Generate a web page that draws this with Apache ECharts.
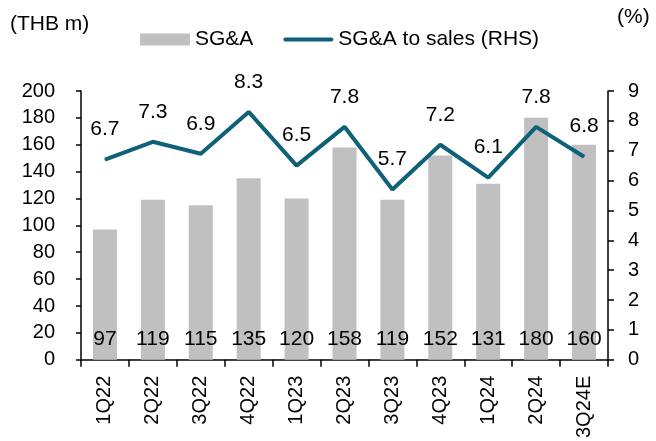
<!DOCTYPE html>
<html><head><meta charset="utf-8">
<script src="https://cdn.jsdelivr.net/npm/echarts@6/dist/echarts.min.js"></script>
<style>html,body{margin:0;padding:0;background:#fff}#c{width:656px;height:441px}</style>
</head><body><div id="c"></div>
<script>
const categories = ['1Q22','2Q22','3Q22','4Q22','1Q23','2Q23','3Q23','4Q23','1Q24','2Q24','3Q24E'];
const sgaValues = [97,119,115,135,120,158,119,152,131,180,160];
const sgaToSales = [6.7,7.3,6.9,8.3,6.5,7.8,5.7,7.2,6.1,7.8,6.8];
const leftTicks = {min:0, max:200, interval:20};
const rightTicks = {min:0, max:9, interval:1};

const FONT = '"Liberation Sans", Arial, sans-serif';
const LINE_COLOR = '#0f6079';
const chart = echarts.init(document.getElementById('c'), null, {renderer:'canvas'});
const axisLabelStyle = {color:'#000', fontFamily:FONT, fontSize:20};
chart.setOption({
  animation:false,
  textStyle:{fontFamily:FONT},
  grid:{left:81, right:48, top:91, bottom:80, containLabel:false},
  legend:{
    left:135, top:24, itemGap:30, itemWidth:50, itemHeight:12,
    symbolKeepAspect:true,
    textStyle:{color:'#000', fontFamily:FONT, fontSize:21},
    data:[
      {name:'SG&A', icon:'rect'},
      {name:'SG&A to sales (RHS)', icon:'path://M2,0L48,0A2,2,0,0,1,48,4L2,4A2,2,0,0,1,2,0Z',
       itemStyle:{color:LINE_COLOR}}
    ]
  },
  graphic:[
    {type:'text', left:10, top:14, style:{text:'(THB m)', font:'21px '+FONT, fill:'#000'}},
    {type:'text', left:617, top:7, style:{text:'(%)', font:'21px '+FONT, fill:'#000'}}
  ],
  xAxis:{
    type:'category', data:categories,
    axisLine:{lineStyle:{color:'#000', width:1.5}},
    axisTick:{show:true, inside:false, length:7, lineStyle:{color:'#000', width:1.5}},
    axisLabel:Object.assign({}, axisLabelStyle, {rotate:90, margin:16, interval:0, fontSize:20})
  },
  yAxis:[
    {type:'value', min:leftTicks.min, max:leftTicks.max, interval:leftTicks.interval,
     axisLine:{show:true, lineStyle:{color:'#000', width:1.5}},
     axisTick:{show:true, length:5, lineStyle:{color:'#000', width:1.5}},
     splitLine:{show:false},
     axisLabel:Object.assign({}, axisLabelStyle, {margin:26})},
    {type:'value', min:rightTicks.min, max:rightTicks.max, interval:rightTicks.interval,
     position:'right',
     axisLine:{show:true, lineStyle:{color:'#000', width:1.5}},
     axisTick:{show:true, length:6, lineStyle:{color:'#000', width:1.5}},
     splitLine:{show:false},
     axisLabel:Object.assign({}, axisLabelStyle, {margin:20})}
  ],
  series:[
    {name:'SG&A', type:'bar', data:sgaValues, barWidth:24, yAxisIndex:0,
     itemStyle:{color:'#c0c0c0'},
     label:{show:true, position:'insideBottom', distance:10, color:'#000', fontFamily:FONT, fontSize:21}},
    {name:'SG&A to sales (RHS)', type:'line', data:sgaToSales, yAxisIndex:1,
     symbol:'circle', symbolSize:1, showSymbol:true,
     lineStyle:{color:LINE_COLOR, width:4},
     itemStyle:{color:LINE_COLOR},
     label:{show:true, position:'top', distance:19, color:'#000', fontFamily:FONT, fontSize:21,
            formatter:p=>p.value.toFixed(1)}}
  ]
});
</script></body></html>
